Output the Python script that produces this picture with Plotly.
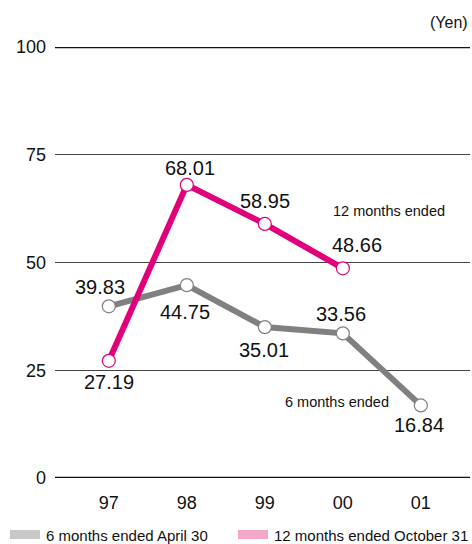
import plotly.graph_objects as go

years = ["97", "98", "99", "00", "01"]
six_month = [39.83, 44.75, 35.01, 33.56, 16.84]
twelve_month = [27.19, 68.01, 58.95, 48.66]
y_ticks = [0, 25, 50, 75, 100]

GRAY = "#808080"
MAGENTA = "#e2007a"
FONT = "Liberation Sans, Arial, sans-serif"

# plot-area geometry in pixels (for placing paper-referenced extras)
W, H = 472, 544
L, R, T, B = 55, 2, 47, 66
PW, PH = W - L - R, H - T - B


def px(x):
    return (x - L) / PW


def py(y):
    return (H - B - y) / PH


fig = go.Figure()

fig.add_trace(go.Scatter(
    x=years, y=six_month, mode="lines+markers",
    line=dict(color=GRAY, width=6),
    marker=dict(size=13, color="white", line=dict(color=GRAY, width=1.2)),
    showlegend=False, hoverinfo="skip",
))
fig.add_trace(go.Scatter(
    x=years[:len(twelve_month)], y=twelve_month, mode="lines+markers",
    line=dict(color=MAGENTA, width=6),
    marker=dict(size=13, color="white", line=dict(color=MAGENTA, width=1.2)),
    showlegend=False, hoverinfo="skip",
))

# value labels: (xshift, yshift) per point; x given as category index
six_offsets = [(-9, 19), (-2, -27), (-1, -23), (-2, 19), (-2, -20)]
twelve_offsets = [(0, -21), (3, 17), (0, 23), (14, 23)]
label_font = dict(size=20, color="#111", family=FONT)
annotations = []
for i, (v, (dx, dy)) in enumerate(zip(six_month, six_offsets)):
    annotations.append(dict(x=i, y=v, text=f"{v:.2f}", showarrow=False,
                            xanchor="center", yanchor="middle",
                            xshift=dx, yshift=dy, font=label_font))
for i, (v, (dx, dy)) in enumerate(zip(twelve_month, twelve_offsets)):
    annotations.append(dict(x=i, y=v, text=f"{v:.2f}", showarrow=False,
                            xanchor="center", yanchor="middle",
                            xshift=dx, yshift=dy, font=label_font))

small = dict(size=14.5, color="#111", family=FONT)
legend_font = dict(size=15, color="#111", family=FONT)
annotations += [
    dict(xref="paper", yref="paper", x=px(389), y=py(211), text="12 months ended",
         showarrow=False, xanchor="center", yanchor="middle", font=small),
    dict(xref="paper", yref="paper", x=px(337), y=py(402), text="6 months ended",
         showarrow=False, xanchor="center", yanchor="middle", font=small),
    dict(xref="paper", yref="paper", x=px(470), y=py(23), text="(Yen)",
         showarrow=False, xanchor="right", yanchor="middle",
         font=dict(size=16, color="#111", family=FONT)),
    dict(xref="paper", yref="paper", x=px(44), y=py(535), text="6 months ended April 30",
         showarrow=False, xanchor="left", yanchor="middle", font=legend_font),
    dict(xref="paper", yref="paper", x=px(272), y=py(535), text="12 months ended October 31",
         showarrow=False, xanchor="left", yanchor="middle", font=legend_font),
]

shapes = [
    # heavy frame lines at 0 and 100
    dict(type="line", xref="paper", yref="y", x0=0, x1=1, y0=0, y1=0,
         line=dict(color="#111", width=2.5)),
    dict(type="line", xref="paper", yref="y", x0=0, x1=1, y0=100, y1=100,
         line=dict(color="#111", width=2.5)),
    # legend swatches
    dict(type="rect", xref="paper", yref="paper", x0=px(10), x1=px(40),
         y0=py(539), y1=py(530), fillcolor="#c8c8c8", line=dict(width=0)),
    dict(type="rect", xref="paper", yref="paper", x0=px(238), x1=px(268),
         y0=py(539), y1=py(530), fillcolor="#f4a8c8", line=dict(width=0)),
]

fig.update_layout(
    width=W, height=H,
    margin=dict(l=L, r=R, t=T, b=B),
    paper_bgcolor="white", plot_bgcolor="white",
    annotations=annotations, shapes=shapes,
    font=dict(family=FONT, color="#111"),
    xaxis=dict(
        type="category", range=[-0.69, 4.63],
        showgrid=False, zeroline=False, showline=False,
        ticks="", ticklabelstandoff=12,
        tickfont=dict(size=18, family=FONT, color="#111"),
        fixedrange=True,
    ),
    yaxis=dict(
        range=[0, 100], tickvals=y_ticks, ticktext=[str(t) for t in y_ticks],
        showgrid=True, gridcolor="#444", gridwidth=1,
        zeroline=False, showline=False, ticks="", ticklabelstandoff=8,
        tickfont=dict(size=18, family=FONT, color="#111"),
        fixedrange=True,
    ),
)

fig.write_html("out.html")
